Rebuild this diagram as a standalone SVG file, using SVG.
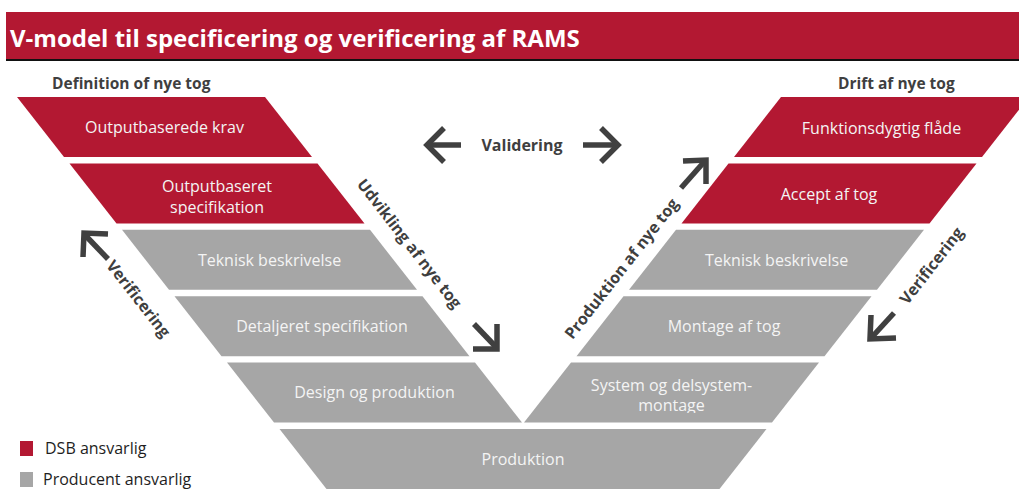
<svg xmlns="http://www.w3.org/2000/svg" width="1019" height="493" viewBox="0 0 1019 493">
<style>
.red{fill:#B31832}
.gray{fill:#A6A6A6}
.lbl{font-family:"Open Sans","Liberation Sans",sans-serif;font-size:16px;fill:#F4F4F4;text-anchor:middle}
.hdr{font-family:"Open Sans","Liberation Sans",sans-serif;font-size:15.5px;font-weight:bold;fill:#3F3F3F}
.rot{font-family:"Open Sans","Liberation Sans",sans-serif;font-size:16px;font-weight:bold;fill:#3F3F3F;text-anchor:middle}
.leg{font-family:"Open Sans","Liberation Sans",sans-serif;font-size:16px;fill:#1E1E1E}
.arr{fill:none;stroke:#404040;stroke-width:5.5;stroke-linecap:butt;stroke-linejoin:miter}
</style>
<defs>
<clipPath id="c1"><rect x="60" y="160" width="320" height="54.5"/></clipPath>
<clipPath id="c2"><rect x="520" y="360" width="320" height="53"/></clipPath>
</defs>
<rect width="1019" height="493" fill="#FFFFFF"/>
<g id="title">
<rect x="6" y="12" width="1013" height="47" class="red"/>
<rect x="6" y="59" width="1013" height="2" fill="#111111"/>
<text x="10" y="47" font-family="'Open Sans','Liberation Sans',sans-serif" font-size="24" font-weight="bold" fill="#FFFFFF">V-model til specificering og verificering af RAMS</text>
</g>
<g id="header-left"><text class="hdr" x="52" y="89">Definition of nye tog</text></g>
<g id="header-right"><text class="hdr" x="838" y="89">Drift af nye tog</text></g>

<g id="l-outputbaserede-krav">
<polygon class="red" points="17,97 265,97 312,157 64,157"/>
<text class="lbl" x="164.5" y="133">Outputbaserede krav</text>
</g>
<g id="l-outputbaseret-spec">
<polygon class="red" points="69.5,163.4 317.5,163.4 364.5,223.4 116.5,223.4"/>
<g clip-path="url(#c1)">
<text class="lbl" x="217" y="192">Outputbaseret</text>
<text class="lbl" x="217" y="213">specifikation</text>
</g>
</g>
<g id="l-teknisk">
<polygon class="gray" points="122,229.8 370,229.8 417,289.8 169,289.8"/>
<text class="lbl" x="269.5" y="266">Teknisk beskrivelse</text>
</g>
<g id="l-detaljeret">
<polygon class="gray" points="174.5,296.2 422.5,296.2 469.5,356.2 221.5,356.2"/>
<text class="lbl" x="322" y="332">Detaljeret specifikation</text>
</g>
<g id="l-design">
<polygon class="gray" points="227,362.6 475,362.6 522,422.6 274,422.6"/>
<text class="lbl" x="374.5" y="398">Design og produktion</text>
</g>

<g id="r-funktionsdygtig">
<polygon class="red" points="781,97 1029,97 982,157 734,157"/>
<text class="lbl" x="881.5" y="134">Funktionsdygtig flåde</text>
</g>
<g id="r-accept">
<polygon class="red" points="728.5,163.4 976.5,163.4 929.5,223.4 681.5,223.4"/>
<text class="lbl" x="829" y="200">Accept af tog</text>
</g>
<g id="r-teknisk">
<polygon class="gray" points="676,229.8 924,229.8 877,289.8 629,289.8"/>
<text class="lbl" x="776.5" y="266">Teknisk beskrivelse</text>
</g>
<g id="r-montage">
<polygon class="gray" points="623.5,296.2 871.5,296.2 824.5,356.2 576.5,356.2"/>
<text class="lbl" x="724" y="332">Montage af tog</text>
</g>
<g id="r-system">
<polygon class="gray" points="571,362.6 819,362.6 772,422.6 524,422.6"/>
<g clip-path="url(#c2)">
<text class="lbl" x="671.5" y="391">System og delsystem-</text>
<text class="lbl" x="671.5" y="411">montage</text>
</g>
</g>
<g id="produktion">
<polygon class="gray" points="279.5,429 766.5,429 719.5,489 326.5,489"/>
<text class="lbl" x="523" y="465">Produktion</text>
</g>

<g id="connectors">
<path class="arr" d="M461,145 L428,145"/>
<polyline class="arr" points="444,128 427,145 444,162"/>
<path class="arr" d="M583,145 L617,145"/>
<polyline class="arr" points="601,128 618,145 601,162"/>
<path class="arr" d="M108,259 L85,235"/>
<polyline class="arr" points="108,234 84,233 83,257"/>
<path class="arr" d="M474,324 L496,347"/>
<polyline class="arr" points="497,324 497,349 473,349"/>
<path class="arr" d="M681,188 L704,162"/>
<polyline class="arr" points="683,161 706,160 706,184"/>
<path class="arr" d="M894,313 L872,337"/>
<polyline class="arr" points="871,315 870,339 896,338"/>
</g>

<g id="label-validering"><text class="rot" x="522" y="151">Validering</text></g>
<g id="label-verificering-left"><text class="rot" transform="translate(138,299) rotate(52)" x="0" y="5">Verificering</text></g>
<g id="label-udvikling"><text class="rot" transform="translate(409,244) rotate(52)" x="0" y="5">Udvikling af nye tog</text></g>
<g id="label-produktion"><text class="rot" transform="translate(622,269) rotate(-52)" x="0" y="5">Produktion af nye tog</text></g>
<g id="label-verificering-right"><text class="rot" transform="translate(932,266) rotate(-52)" x="0" y="5">Verificering</text></g>

<g id="legend">
<rect x="20" y="441" width="13" height="15" class="red"/>
<text class="leg" x="45" y="454">DSB ansvarlig</text>
<rect x="20" y="472" width="13" height="15" class="gray"/>
<text class="leg" x="43" y="485">Producent ansvarlig</text>
</g>
</svg>
